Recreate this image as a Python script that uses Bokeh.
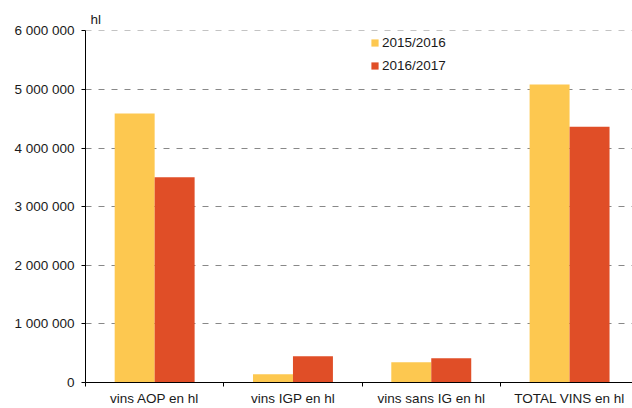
from bokeh.plotting import figure
from bokeh.models import FixedTicker, Range1d, Legend
from bokeh.embed import file_html
from bokeh.resources import INLINE

categories = ["vins AOP en hl", "vins IGP en hl", "vins sans IG en hl", "TOTAL VINS en hl"]
series_names = ["2015/2016", "2016/2017"]
values_2015 = [4590000, 140000, 346000, 5085000]
values_2016 = [3500000, 450000, 415000, 4365000]
y_ticks = [0, 1000000, 2000000, 3000000, 4000000, 5000000, 6000000]
y_tick_labels = ["0", "1 000 000", "2 000 000", "3 000 000", "4 000 000", "5 000 000", "6 000 000"]
colors = ["#FDC850", "#E04E27"]
unit_label = "hl"

FONT = "Liberation Sans"
FS = "13.5px"

p = figure(width=632, height=408, output_backend="svg", toolbar_location=None,
           x_range=Range1d(0, 3.955), y_range=Range1d(0, 6006000),
           min_border_left=85, min_border_right=0, min_border_top=30, min_border_bottom=26)
p.outline_line_color = None
p.background_fill_color = "white"
p.border_fill_color = "white"

p.title.text = unit_label
p.title.align = "left"
p.title.offset = 5
p.title.standoff = 8
p.title.text_font = FONT
p.title.text_font_size = FS
p.title.text_font_style = "normal"
p.title.text_color = "#1a1a1a"

bw = 0.289
centers = [i + 0.5 for i in range(len(categories))]
r1 = p.vbar(x=[c - bw / 2 for c in centers], top=values_2015, width=bw, color=colors[0], line_color=None)
r2 = p.vbar(x=[c + bw / 2 for c in centers], top=values_2016, width=bw, color=colors[1], line_color=None)

# x axis: labels at centers, ticks at boundaries
xa = p.xaxis[0]
xa.ticker = FixedTicker(ticks=centers, minor_ticks=list(range(len(categories) + 1)))
xa.major_label_overrides = {c: lab for c, lab in zip(centers, categories)}
xa.major_tick_line_color = None
xa.major_tick_out = 0
xa.major_tick_in = 0
xa.minor_tick_out = 4
xa.minor_tick_in = 0
xa.minor_tick_line_color = "black"
xa.axis_line_color = "black"
xa.major_label_standoff = 4
xa.major_label_text_font = FONT
xa.major_label_text_font_size = FS
xa.major_label_text_color = "#1a1a1a"

ya = p.yaxis[0]
ya.ticker = FixedTicker(ticks=y_ticks, minor_ticks=[])
ya.major_label_overrides = {t: lab for t, lab in zip(y_ticks, y_tick_labels)}
ya.major_tick_out = 4
ya.major_tick_in = 0
ya.minor_tick_line_color = None
ya.major_tick_line_color = "black"
ya.axis_line_color = "black"
ya.major_label_standoff = 7
ya.major_label_text_font = FONT
ya.major_label_text_font_size = FS
ya.major_label_text_color = "#1a1a1a"

p.xgrid.grid_line_color = None
p.ygrid.ticker = FixedTicker(ticks=y_ticks)
p.ygrid.grid_line_color = "#888888"
p.ygrid.grid_line_dash = "6 7"
p.ygrid.grid_line_width = 1

legend = Legend(items=[(series_names[0], [r1]), (series_names[1], [r2])],
                location=(285, 309), orientation="vertical")
legend.padding = 0
legend.margin = 0
legend.border_line_color = None
legend.background_fill_alpha = 0
legend.glyph_width = 9
legend.glyph_height = 9
legend.label_standoff = 3
legend.spacing = 8
legend.label_text_font = FONT
legend.label_text_font_size = FS
legend.label_text_color = "#1a1a1a"
p.add_layout(legend, "center")

open("out.html", "w").write(file_html(p, INLINE))
